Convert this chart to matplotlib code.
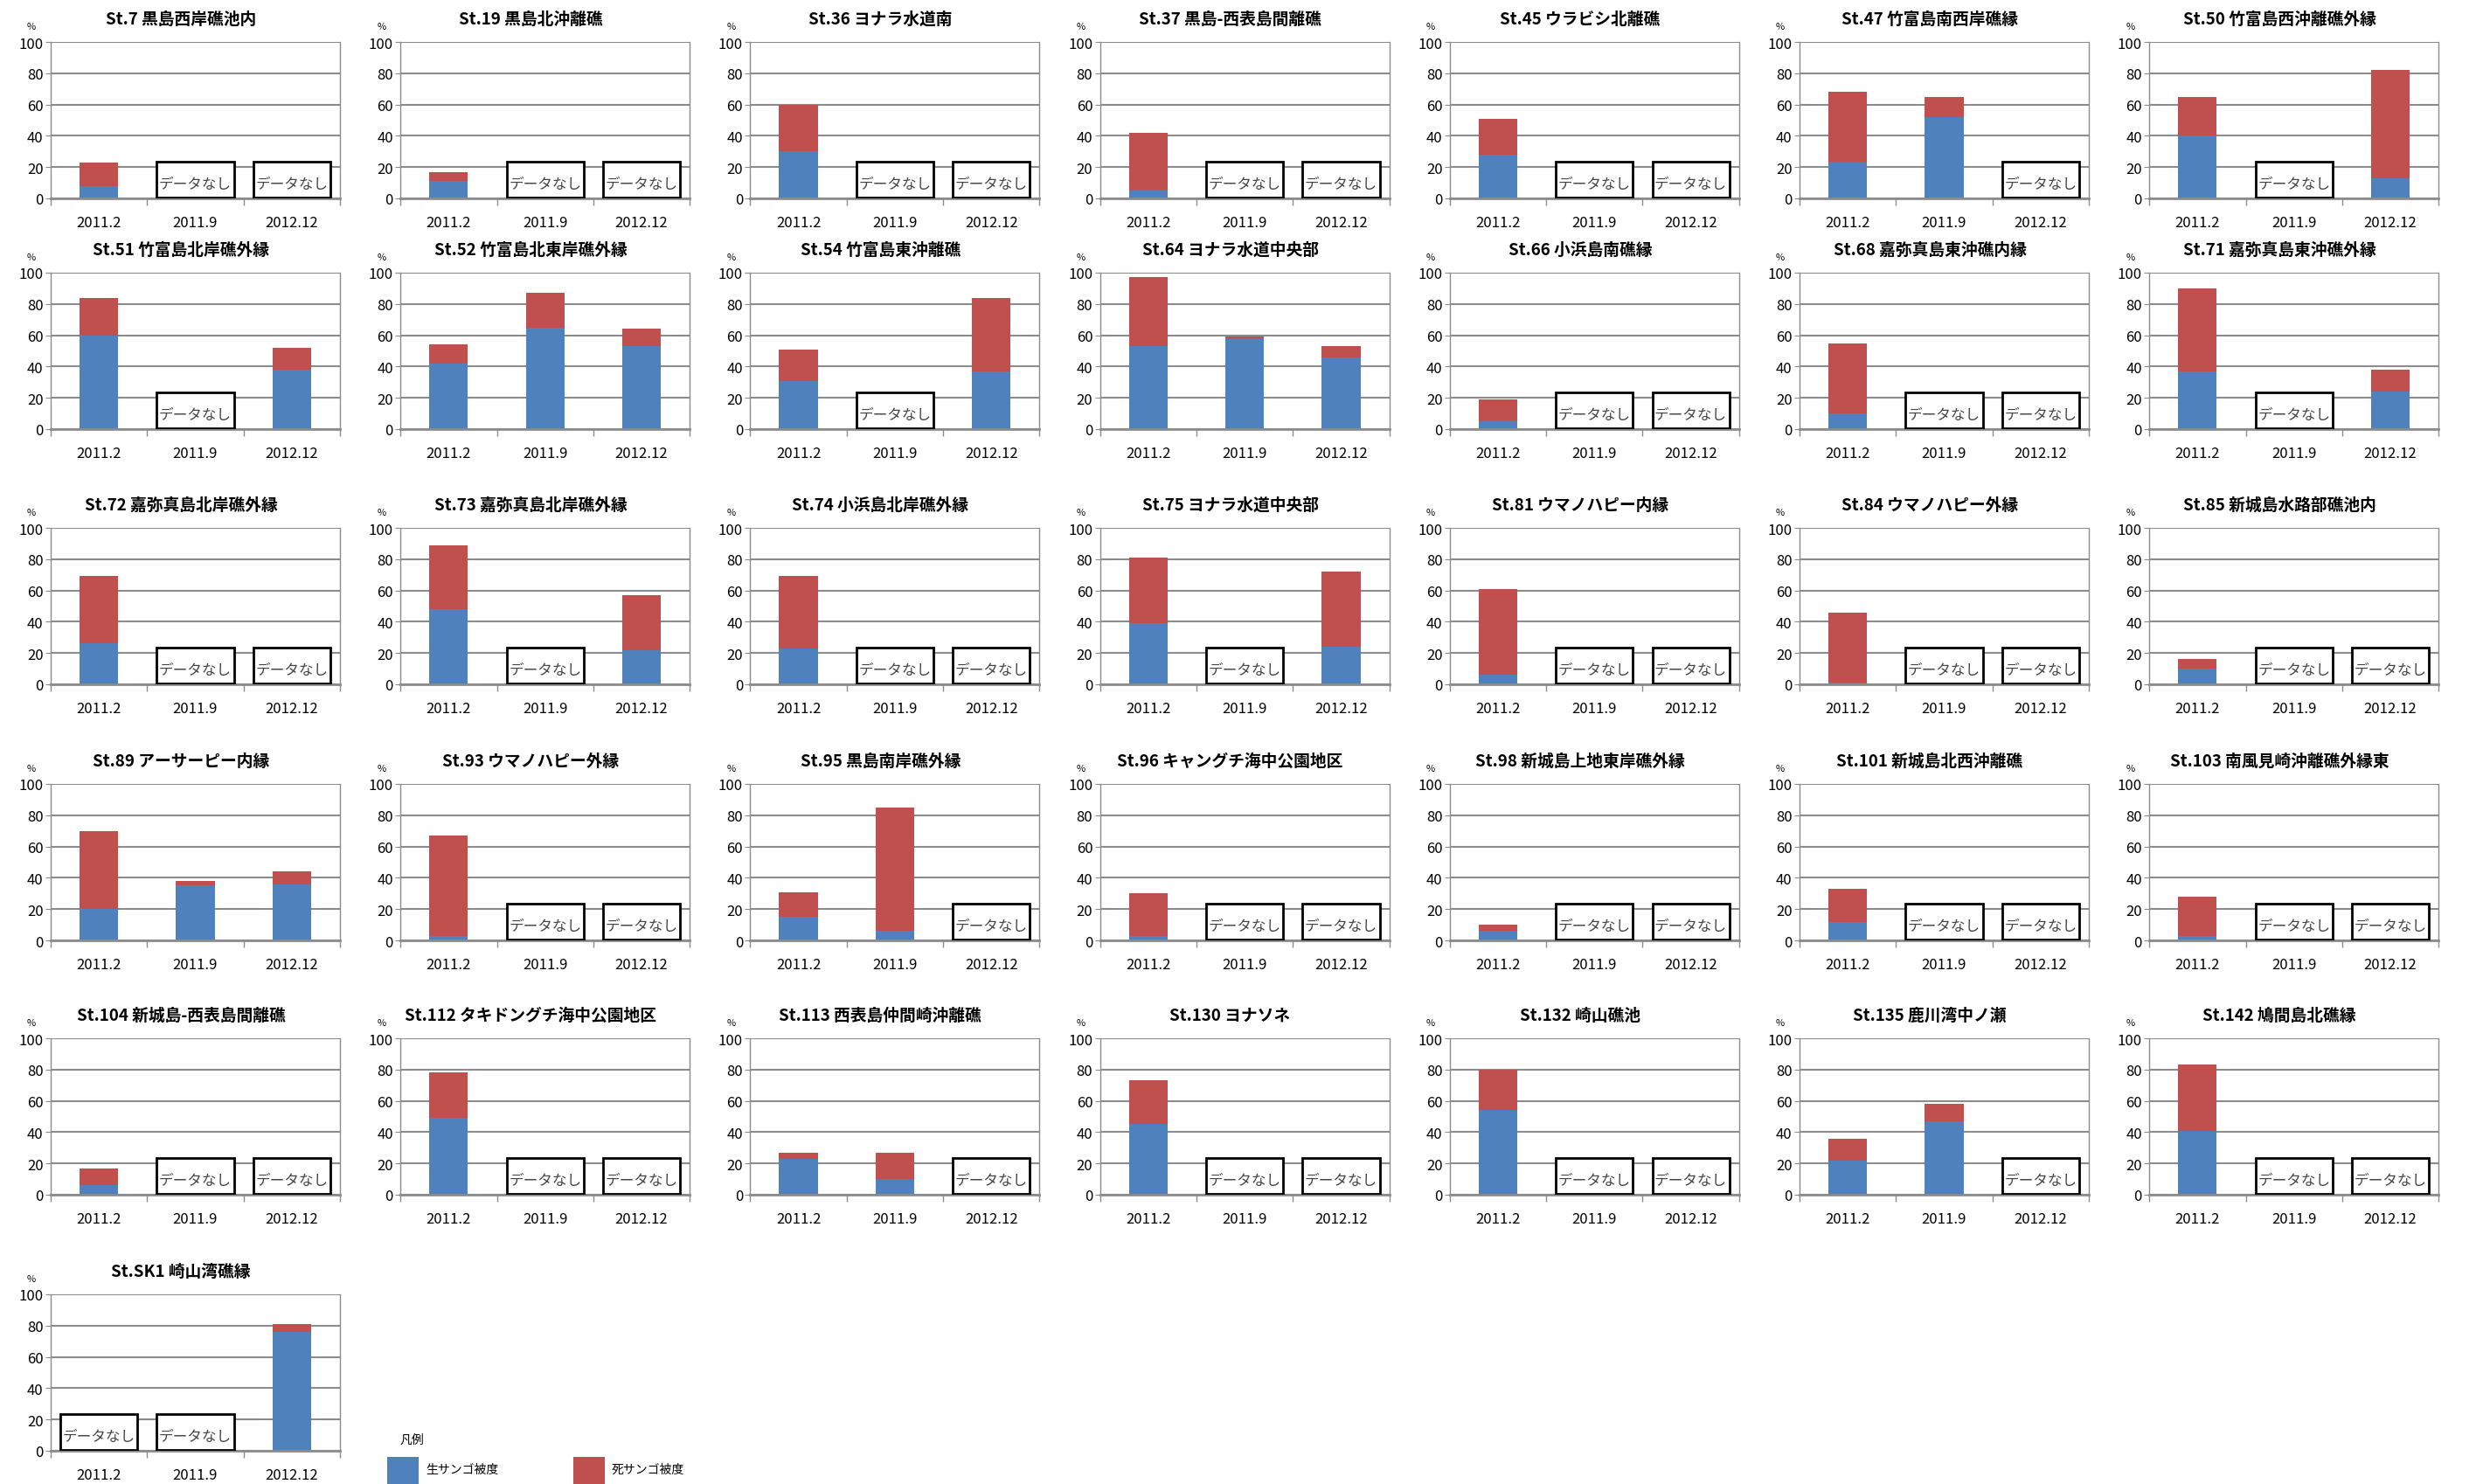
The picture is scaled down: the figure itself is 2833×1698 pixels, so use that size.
import numpy as np
import matplotlib
matplotlib.use("Agg")
import matplotlib.pyplot as plt
from matplotlib.patches import Rectangle

plt.rcParams['font.family'] = ['Noto Sans CJK JP', 'DejaVu Sans']

nan = np.nan

# survey periods
periods = ['2011.2', '2011.9', '2012.12']

stations = [
    'St.7 黒島西岸礁池内', 'St.19 黒島北沖離礁', 'St.36 ヨナラ水道南',
    'St.37 黒島-西表島間離礁', 'St.45 ウラビシ北離礁', 'St.47 竹富島南西岸礁縁',
    'St.50 竹富島西沖離礁外縁',
    'St.51 竹富島北岸礁外縁', 'St.52 竹富島北東岸礁外縁', 'St.54 竹富島東沖離礁',
    'St.64 ヨナラ水道中央部', 'St.66 小浜島南礁縁', 'St.68 嘉弥真島東沖礁内縁',
    'St.71 嘉弥真島東沖礁外縁',
    'St.72 嘉弥真島北岸礁外縁', 'St.73 嘉弥真島北岸礁外縁', 'St.74 小浜島北岸礁外縁',
    'St.75 ヨナラ水道中央部', 'St.81 ウマノハピー内縁', 'St.84 ウマノハピー外縁',
    'St.85 新城島水路部礁池内',
    'St.89 アーサーピー内縁', 'St.93 ウマノハピー外縁', 'St.95 黒島南岸礁外縁',
    'St.96 キャングチ海中公園地区', 'St.98 新城島上地東岸礁外縁', 'St.101 新城島北西沖離礁',
    'St.103 南風見崎沖離礁外縁東',
    'St.104 新城島-西表島間離礁', 'St.112 タキドングチ海中公園地区',
    'St.113 西表島仲間崎沖離礁', 'St.130 ヨナソネ', 'St.132 崎山礁池',
    'St.135 鹿川湾中ノ瀬', 'St.142 鳩間島北礁縁',
    'St.SK1 崎山湾礁縁',
]

# live coral cover (%) per period, nan = no survey
live = [
    [8, nan, nan], [11, nan, nan], [30, nan, nan], [5, nan, nan], [28, nan, nan],
    [23, 52, nan], [40, nan, 13],
    [60, nan, 38], [42, 65, 53], [31, nan, 37], [53, 58, 46], [5, nan, nan],
    [10, nan, nan], [37, nan, 24],
    [26, nan, nan], [48, nan, 22], [23, nan, nan], [39, nan, 24], [6, nan, nan],
    [1, nan, nan], [10, nan, nan],
    [20, 35, 36], [3, nan, nan], [15, 6, nan], [3, nan, nan], [6, nan, nan],
    [12, nan, nan], [3, nan, nan],
    [6, nan, nan], [49, nan, nan], [23, 10, nan], [45, nan, nan], [54, nan, nan],
    [22, 47, nan], [41, nan, nan],
    [nan, nan, 76],
]

# dead coral cover (%) per period
dead = [
    [15, nan, nan], [6, nan, nan], [30, nan, nan], [37, nan, nan], [23, nan, nan],
    [45, 13, nan], [25, nan, 69],
    [24, nan, 14], [12, 22, 11], [20, nan, 47], [44, 1, 7], [14, nan, nan],
    [45, nan, nan], [53, nan, 14],
    [43, nan, nan], [41, nan, 35], [46, nan, nan], [42, nan, 48], [55, nan, nan],
    [45, nan, nan], [6, nan, nan],
    [50, 3, 8], [64, nan, nan], [16, 79, nan], [27, nan, nan], [4, nan, nan],
    [21, nan, nan], [25, nan, nan],
    [11, nan, nan], [29, nan, nan], [4, 17, nan], [28, nan, nan], [26, nan, nan],
    [14, 11, nan], [42, nan, nan],
    [nan, nan, 5],
]

BLUE = '#4F81BD'
RED = '#C0504D'
GRID = '#8C8C8C'

W, H = 2833, 1699
fig = plt.figure(figsize=(W / 100, H / 100), dpi=100)
fig.patch.set_facecolor('white')

AW, AH = 331, 179
col_x0, col_step = 58, 400.2
row_tops = [49, 313, 605, 898, 1189, 1482]

x = np.arange(len(periods))
for k, name in enumerate(stations):
    r, c = divmod(k, 7)
    left = col_x0 + c * col_step
    top = row_tops[r]
    ax = fig.add_axes([left / W, 1 - (top + AH) / H, AW / W, AH / H])

    lv = np.array(live[k], dtype=float)
    dd = np.array(dead[k], dtype=float)
    ax.bar(x, lv, width=0.4, color=BLUE, zorder=2)
    ax.bar(x, dd, width=0.4, bottom=lv, color=RED, zorder=2)

    # "no data" boxes
    for i in x:
        if np.isnan(lv[i]):
            ax.add_patch(Rectangle((i - 0.4, 0.6), 0.8, 22.6, facecolor='white',
                                   edgecolor='black', lw=2.0, zorder=3))
            ax.text(i, 9, 'データなし', ha='center', va='center', fontsize=12,
                    color='#444444', zorder=4)

    ax.set_xlim(-0.5, 2.5)
    ax.set_ylim(0, 100)
    ax.set_yticks(range(0, 101, 20))
    ax.yaxis.grid(True, color=GRID, lw=1.5, zorder=0)
    ax.set_axisbelow(True)

    ax.set_xticks([-0.5, 0.5, 1.5, 2.5])
    ax.set_xticklabels([])
    ax.set_xticks(x, minor=True)
    ax.set_xticklabels(periods, minor=True)
    ax.tick_params(axis='x', which='major', length=6, color=GRID, width=1)
    ax.tick_params(axis='x', which='minor', length=0, pad=14, labelsize=12)
    ax.tick_params(axis='y', length=4, color=GRID, pad=2, labelsize=12)
    for side, sp in ax.spines.items():
        sp.set_color(GRID)
        sp.set_linewidth(1.0)
    ax.spines['bottom'].set_linewidth(2.0)
    ax.spines['top'].set_visible(False)

    ax.text(0.45, 1 + 27 / AH, name, transform=ax.transAxes, ha='center',
            va='center', fontsize=13.5, fontweight='bold')
    ax.text(-22 / AW, 1 + 18 / AH, '%', transform=ax.transAxes, ha='center',
            va='center', fontsize=8)

# legend
fig.text(458 / W, 1 - 1648 / H, '凡例', fontsize=10, va='center')
for px, label, col in [(443, '生サンゴ被度', BLUE), (656, '死サンゴ被度', RED)]:
    fig.patches.append(Rectangle((px / W, 0), 36 / W, 31 / H, facecolor=col,
                                 transform=fig.transFigure, figure=fig))
    fig.text((px + 44) / W, 1 - 1682 / H, label, fontsize=10, va='center')

fig.savefig('out.png', dpi=100, facecolor='white')
